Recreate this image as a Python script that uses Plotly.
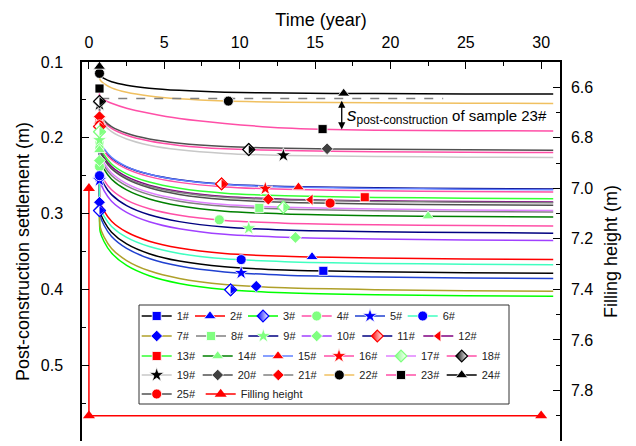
import plotly.graph_objects as go

# ---------------------------------------------------------------
# Post-construction settlement of 25 samples versus time
# ---------------------------------------------------------------
TIME = [0.7, 0.75, 1.0, 1.5, 2.5, 4, 6, 9, 13, 19, 25, 30.8]

S01 = [0.252, 0.298, 0.3101, 0.3246, 0.3400, 0.3529, 0.3626, 0.3702, 0.3743, 0.3767, 0.3779, 0.3787]
S02 = [0.248, 0.285, 0.2963, 0.3100, 0.3243, 0.3364, 0.3455, 0.3527, 0.3564, 0.3587, 0.3598, 0.3606]
S03 = [0.296, 0.324, 0.3368, 0.3521, 0.3683, 0.3819, 0.3921, 0.4002, 0.4044, 0.4070, 0.4083, 0.4091]
S04 = [0.238, 0.245, 0.2557, 0.2686, 0.2822, 0.2936, 0.3022, 0.3090, 0.3126, 0.3147, 0.3158, 0.3165]
S05 = [0.256, 0.303, 0.3154, 0.3303, 0.3460, 0.3592, 0.3692, 0.3770, 0.3812, 0.3836, 0.3849, 0.3857]
S06 = [0.250, 0.292, 0.3033, 0.3169, 0.3313, 0.3434, 0.3525, 0.3597, 0.3634, 0.3657, 0.3668, 0.3676]
S07 = [0.285, 0.318, 0.3307, 0.3459, 0.3619, 0.3755, 0.3856, 0.3936, 0.3979, 0.4004, 0.4017, 0.4025]
S08 = [0.210, 0.226, 0.2368, 0.2498, 0.2634, 0.2750, 0.2836, 0.2904, 0.2940, 0.2962, 0.2973, 0.2980]
S09 = [0.203, 0.250, 0.2614, 0.2750, 0.2894, 0.3015, 0.3106, 0.3178, 0.3216, 0.3239, 0.3250, 0.3258]
S10 = [0.230, 0.258, 0.2696, 0.2836, 0.2983, 0.3107, 0.3200, 0.3274, 0.3312, 0.3336, 0.3347, 0.3355]
S11 = [0.185, 0.207, 0.2161, 0.2270, 0.2385, 0.2481, 0.2554, 0.2612, 0.2642, 0.2660, 0.2669, 0.2675]
S12 = [0.182, 0.215, 0.2255, 0.2380, 0.2513, 0.2625, 0.2708, 0.2775, 0.2810, 0.2831, 0.2841, 0.2848]
S13 = [0.180, 0.212, 0.2223, 0.2345, 0.2475, 0.2584, 0.2666, 0.2731, 0.2765, 0.2786, 0.2796, 0.2803]
S14 = [0.216, 0.230, 0.2412, 0.2546, 0.2688, 0.2807, 0.2897, 0.2968, 0.3005, 0.3027, 0.3039, 0.3046]
S15 = [0.178, 0.205, 0.2145, 0.2259, 0.2380, 0.2481, 0.2557, 0.2617, 0.2649, 0.2668, 0.2678, 0.2684]
S16 = [0.175, 0.208, 0.2175, 0.2290, 0.2410, 0.2512, 0.2588, 0.2648, 0.2680, 0.2699, 0.2709, 0.2715]
S17 = [0.192, 0.222, 0.2331, 0.2464, 0.2604, 0.2722, 0.2810, 0.2881, 0.2917, 0.2940, 0.2951, 0.2958]
S18 = [0.152, 0.172, 0.1791, 0.1877, 0.1967, 0.2043, 0.2100, 0.2145, 0.2169, 0.2183, 0.2190, 0.2195]
S19 = [0.156, 0.175, 0.1827, 0.1918, 0.2015, 0.2097, 0.2158, 0.2206, 0.2232, 0.2247, 0.2255, 0.2260]
S20 = [0.154, 0.170, 0.1770, 0.1853, 0.1941, 0.2016, 0.2071, 0.2115, 0.2139, 0.2152, 0.2159, 0.2164]
S21 = [0.172, 0.218, 0.2281, 0.2403, 0.2532, 0.2640, 0.2721, 0.2785, 0.2819, 0.2839, 0.2849, 0.2856]
S22 = [0.115, 0.124, 0.1286, 0.1341, 0.1400, 0.1449, 0.1486, 0.1515, 0.1530, 0.1539, 0.1544, 0.1547]
S23 = [0.135, 0.148, 0.1500, 0.1545, 0.1610, 0.1675, 0.1745, 0.1810, 0.1870, 0.1900, 0.1906, 0.1909]
S24 = [0.106, 0.118, 0.1217, 0.1260, 0.1306, 0.1345, 0.1374, 0.1398, 0.1410, 0.1417, 0.1421, 0.1423]
S25 = [0.183, 0.217, 0.2278, 0.2408, 0.2545, 0.2660, 0.2747, 0.2815, 0.2851, 0.2873, 0.2884, 0.2891]

SERIES = [S01, S02, S03, S04, S05, S06, S07, S08, S09, S10, S11, S12, S13,
          S14, S15, S16, S17, S18, S19, S20, S21, S22, S23, S24, S25]
NAMES = [f"{k}#" for k in range(1, 26)]

# second symbol drawn along each curve
MARK_T = [15.55, 14.8, 9.4, 8.65, 10.1, 10.1, 11.1, 11.3, 10.6, 13.7, 8.8, 14.7, 18.3,
          22.5, 13.9, 11.7, 12.9, 10.6, 12.9, 15.8, 11.9, 9.25, 15.5, 16.9, 16.0]
MARK_S = [0.3755, 0.3571, 0.4006, 0.3082, 0.3782, 0.3607, 0.3959, 0.2925, 0.3193, 0.3315,
          0.2608, 0.2816, 0.2784, 0.3034, 0.2652, 0.2670, 0.2916, 0.2155, 0.2231, 0.2145,
          0.2810, 0.1516, 0.1885, 0.1415, 0.2862]

# filling height (right axis)
FILL_T = [0, 0, 30]
FILL_H = [7.0, 7.9, 7.9]

# end-of-construction level of sample 23# (dashed guide)
DASH_T = [0.75, 23.5]
ARROW_T = 16.77

TIME_TICKS = [0, 5, 10, 15, 20, 25, 30]
S_TICKS = [0.1, 0.2, 0.3, 0.4, 0.5, 0.6]
S_LABELS = ["0.1", "0.2", "0.3", "0.4", "0.5", ""]
H_TICKS = [6.6, 6.8, 7.0, 7.2, 7.4, 7.6, 7.8, 8.0]

# ---------------------------------------------------------------
# styles
# ---------------------------------------------------------------
PINK = "#FF4FA7"
LGREEN = "#80FF80"
BLUE = "#0000FF"
RED = "#FF0000"
BLACK = "#000000"

LINE_COLORS = [BLACK, RED, "#00FF00", PINK, "#2040D0", "#40FFC0",
               "#AFA02A", "#808080", "#000080", "#A040FF", "#000080", "#800080",
               "#33FF33", "#008000", "#6080FF", PINK, "#E080FF", PINK,
               "#C8C8C8", "#505050", "#808080", "#F0C060", PINK, BLACK,
               "#505050"]
MARKER_COLORS = [BLUE, BLUE, BLUE, LGREEN, BLUE, BLUE,
                 BLUE, LGREEN, LGREEN, LGREEN, RED, RED,
                 RED, LGREEN, RED, RED, LGREEN, BLACK,
                 BLACK, "#404040", RED, BLACK, BLACK, BLACK,
                 RED]
SYMBOLS = ["square", "triangle-up", "diamond", "circle", "star", "circle",
           "diamond", "square", "star", "diamond", "diamond", "triangle-left",
           "square", "triangle-up", "triangle-up", "star", "diamond", "diamond",
           "star", "diamond", "diamond", "circle", "square", "triangle-up",
           "circle"]
HALF = [False, False, True, False, False, False,
        False, False, False, False, True, False,
        False, False, False, False, True, True,
        False, False, False, False, False, False,
        False]
SIZES = {"square": 9, "triangle-up": 10.5, "diamond": 9, "circle": 10,
         "star": 11, "triangle-left": 10}

FONT = "Arial, 'Liberation Sans', Helvetica, sans-serif"

# plot frame in pixels
PX_L, PX_R, PX_T, PX_B = 82, 560, 62, 441
PW, PH = PX_R - PX_L, PX_B - PX_T
X_RANGE = [-0.46, 31.25]
PX_PER_YEAR = PW / (X_RANGE[1] - X_RANGE[0])


def px_x(v):
    return (v - PX_L) / PW


def px_y(v):
    return (PX_B - v) / PH


# legend layout: one legend per entry so rows keep their own spacing
ROW_Y = [316, 336, 356, 375, 394]
ROW_X = [[141.7, 195, 248, 301.7, 355, 407.7],
         [141.7, 196, 248.3, 301.7, 362.3, 423.3],
         [141.7, 202.7, 263, 324, 386, 446.7],
         [141.7, 202.7, 263.3, 324.3, 386, 446.7],
         [141.7, 205.7]]
LEGEND_POS = [(x, y) for xs, y in zip(ROW_X, ROW_Y) for x in xs]
LEGEND_IDS = ["legend" if k == 0 else f"legend{k + 1}" for k in range(len(LEGEND_POS))]

fig = go.Figure()

# settlement curves
for s, c in zip(SERIES, LINE_COLORS):
    fig.add_trace(go.Scatter(
        x=TIME, y=s, mode="lines",
        line=dict(color=c, width=1.5, shape="spline", smoothing=0.8),
        showlegend=False, hoverinfo="skip"))

# dashed guide at the end-of-construction settlement of 23#
fig.add_trace(go.Scatter(
    x=DASH_T, y=[S23[1], S23[1]], mode="lines",
    line=dict(color="#7F7F7F", width=1.5, dash="dash"),
    showlegend=False, hoverinfo="skip"))

# symbols (first point and one along each curve) + legend entries
for i in range(25):
    sym = SYMBOLS[i]
    if HALF[i]:
        marker = dict(symbol=sym, size=SIZES[sym], color=MARKER_COLORS[i],
                      gradient=dict(type="horizontal", color="white"),
                      line=dict(color=MARKER_COLORS[i], width=1.2))
    else:
        marker = dict(symbol=sym, size=SIZES[sym], color=MARKER_COLORS[i],
                      line=dict(color="white", width=0.8))
    fig.add_trace(go.Scatter(
        x=[TIME[0], None, MARK_T[i]], y=[SERIES[i][0], None, MARK_S[i]],
        mode="lines+markers", connectgaps=False,
        line=dict(color=LINE_COLORS[i], width=1.5),
        marker=marker, name=NAMES[i], legend=LEGEND_IDS[i],
        cliponaxis=False))

# half-filled diamonds: open diamond with its right half filled
HALF_SHIFT = 1.85 / PX_PER_YEAR
for i in range(25):
    if not HALF[i]:
        continue
    xs = [TIME[0], MARK_T[i]]
    ys = [SERIES[i][0], MARK_S[i]]
    fig.add_trace(go.Scatter(
        x=xs, y=ys, mode="markers",
        marker=dict(symbol="diamond", size=SIZES["diamond"], color="white",
                    line=dict(color=MARKER_COLORS[i], width=1.2)),
        showlegend=False, hoverinfo="skip", cliponaxis=False))
    fig.add_trace(go.Scatter(
        x=[v + HALF_SHIFT for v in xs], y=ys, mode="markers",
        marker=dict(symbol="triangle-right", size=7.4, color=MARKER_COLORS[i],
                    line=dict(width=0)),
        showlegend=False, hoverinfo="skip", cliponaxis=False))

fig.add_trace(go.Scatter(
    x=FILL_T, y=FILL_H, yaxis="y2", mode="lines+markers",
    line=dict(color=RED, width=1.5),
    marker=dict(symbol="triangle-up", size=10.5, color=RED),
    name="Filling height", legend=LEGEND_IDS[25], cliponaxis=False))

# double arrow showing the post-construction settlement of 23#
fig.add_annotation(x=ARROW_T, y=S23[-1] - 0.002, ax=ARROW_T, ay=S23[1] + 0.001,
                   xref="x", yref="y", axref="x", ayref="y", text="",
                   showarrow=True, arrowhead=2, arrowside="end+start",
                   arrowsize=1.1, arrowwidth=1.3, arrowcolor="black")
fig.add_annotation(x=ARROW_T + 0.2, y=(S23[1] + S23[-1]) / 2 + 0.001,
                   xref="x", yref="y", xanchor="left", yanchor="middle",
                   showarrow=False,
                   text="<i><span style='font-size:19px'>s</span></i>"
                        "<sub><span style='font-size:12px'>post-construction</span></sub>"
                        " of sample 23#",
                   font=dict(size=15, color="black"))

# legend frame
fig.add_shape(type="rect", xref="paper", yref="paper",
              x0=px_x(139), x1=px_x(509), y0=px_y(404), y1=px_y(305),
              line=dict(color="#333333", width=1), fillcolor="white", layer="below")

legend_layout = {}
for lid, (lx, ly) in zip(LEGEND_IDS, LEGEND_POS):
    legend_layout[lid] = dict(orientation="h", x=px_x(lx - 5), xanchor="left",
                              y=px_y(ly), yanchor="middle",
                              bgcolor="rgba(0,0,0,0)", borderwidth=0,
                              font=dict(size=11, family=FONT, color="#222"),
                              itemwidth=30, tracegroupgap=0)

axis_common = dict(showline=True, linecolor="black", linewidth=1.5, mirror=False,
                   showgrid=False, zeroline=False, ticks="inside", ticklen=7,
                   tickwidth=1.2, tickcolor="black",
                   tickfont=dict(size=16, family=FONT, color="black"))

fig.update_layout(
    width=636, height=446,
    margin=dict(l=PX_L, r=636 - PX_R, t=PX_T, b=446 - PX_B),
    paper_bgcolor="white", plot_bgcolor="white",
    font=dict(family=FONT, size=16, color="black"),
    xaxis=dict(side="top", range=X_RANGE, tickmode="array", tickvals=TIME_TICKS,
               minor=dict(ticks="inside", ticklen=4, tickwidth=1.2, tickcolor="black",
                          tick0=0, dtick=2.5),
               title=dict(text="Time (year)", standoff=3, font=dict(size=18)),
               ticklabelstandoff=6, **axis_common),
    yaxis=dict(range=[0.6, 0.1], tickmode="array", tickvals=S_TICKS, ticktext=S_LABELS,
               minor=dict(ticks="inside", ticklen=4, tickwidth=1.2, tickcolor="black",
                          tick0=0.05, dtick=0.05),
               title=dict(text="Post-construction settlement (m)", standoff=6,
                          font=dict(size=18)),
               ticklabelstandoff=14, **axis_common),
    yaxis2=dict(overlaying="y", side="right", range=[8.0, 6.5], tickmode="array",
                tickvals=H_TICKS, ticktext=[f"{v:.1f}" for v in H_TICKS],
                minor=dict(ticks="inside", ticklen=4, tickwidth=1.2, tickcolor="black",
                           tick0=6.5, dtick=0.1),
                title=dict(text="Filling height (m)", standoff=12, font=dict(size=18)),
                ticklabelstandoff=6, **axis_common),
    showlegend=True,
    **legend_layout,
)

fig.write_html("out.html")
